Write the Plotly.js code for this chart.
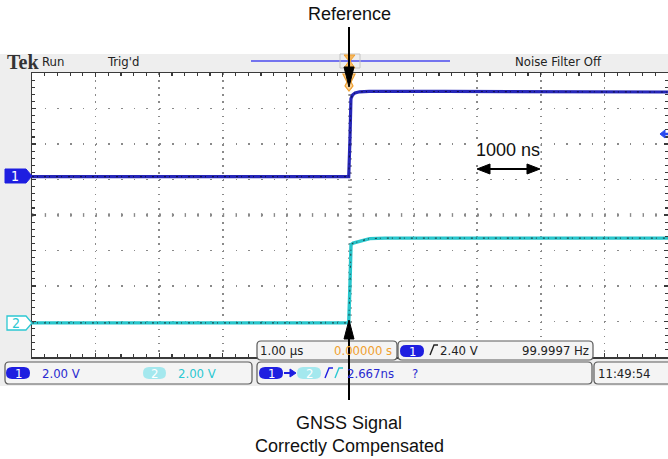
<!DOCTYPE html>
<html><head><meta charset="utf-8">
<script src="https://cdn.plot.ly/plotly-3.0.1.min.js"></script>
<style>html,body{margin:0;padding:0;background:#fff;overflow:hidden}#chart{width:668px;height:459px}</style>
</head><body><div id="chart"></div>
<script>
// ---- data (time in microseconds, volts) ----
const timeCh1 = [-5, -0.6, -0.02, 0.0, 0.015, 0.04, 0.08, 0.15, 0.3, 1.5, 3.5, 5];
const voltCh1 = [0.0, 0.0, 0.0, 2.2, 4.4, 4.6, 4.72, 4.78, 4.8, 4.8, 4.78, 4.77];
const timeCh2 = [-5, -0.6, -0.02, 0.0, 0.016, 0.05, 0.157, 0.31, 0.55, 2.0, 5];
const voltCh2 = [0.0, 0.0, 0.0, 2.2, 4.41, 4.5, 4.6, 4.75, 4.78, 4.78, 4.78];
const voltsPerDiv = ['2.00 V', '2.00 V'];
const timePerDiv = '1.00 µs';
const triggerTime = '0.00000 s';
const triggerLevel = '2.40 V';
const frequency = '99.9997 Hz';
const delayText = '2.667ns';
const clockText = '11:49:54';

// ---- geometry helpers (pixel -> paper) ----
const L=32,R=668,T=73,B=357;
const PX=x=>(x-L)/(R-L), PY=y=>(B-y)/(B-T);
const P=(x,y)=>PX(x).toFixed(5)+','+PY(y).toFixed(5);
const NARROW='Liberation Sans Narrow, DejaVu Sans Condensed, Arial Narrow, sans-serif';
const SANS='Liberation Sans, Arial, Helvetica, sans-serif';
const FS=13;
const shapes=[], annotations=[];
function rect(x0,y0,x1,y1,fill,line,lw,layer){shapes.push({type:'rect',xref:'paper',yref:'paper',x0:PX(x0),x1:PX(x1),y0:PY(y1),y1:PY(y0),fillcolor:fill,line:{color:line||fill,width:lw||0},layer:layer||'above'});}
function poly(pts,fill,line,lw,closed,layer){const d='M'+pts.map(p=>P(p[0],p[1])).join('L')+(closed===false?'':'Z');shapes.push({type:'path',xref:'paper',yref:'paper',path:d,fillcolor:fill||'rgba(0,0,0,0)',line:{color:line||'rgba(0,0,0,0)',width:lw||0},layer:layer||'above'});}
function seg(x0,y0,x1,y1,color,w,dash,layer){shapes.push({type:'line',xref:'paper',yref:'paper',x0:PX(x0),y0:PY(y0),x1:PX(x1),y1:PY(y1),line:{color:color,width:w,dash:dash||'solid'},layer:layer||'above'});}
function rrect(x0,y0,x1,y1,r,fill,line,lw,layer){const d=`M${P(x0+r,y0)}L${P(x1-r,y0)}Q${P(x1,y0)} ${P(x1,y0+r)}L${P(x1,y1-r)}Q${P(x1,y1)} ${P(x1-r,y1)}L${P(x0+r,y1)}Q${P(x0,y1)} ${P(x0,y1-r)}L${P(x0,y0+r)}Q${P(x0,y0)} ${P(x0+r,y0)}Z`;shapes.push({type:'path',xref:'paper',yref:'paper',path:d,fillcolor:fill,line:{color:line||fill,width:lw||0},layer:layer||'above'});}
function txt(s,x,y,color,size,anchor,family,bold,bg){annotations.push({xref:'paper',yref:'paper',x:PX(x),y:PY(y),text:bold?'<b>'+s+'</b>':s,showarrow:false,xanchor:anchor||'left',yanchor:'middle',borderpad:0,bgcolor:bg||'rgba(0,0,0,0)',font:{family:family||NARROW,size:size||FS,color:color||'#222'}});}
function badge(x0,x1,yc,fill,label,tcolor){rrect(x0,yc-6,x1,yc+6,6,fill,fill,0);txt(label,(x0+x1)/2,yc,tcolor||'#fff',13,'center');}
function edge(x,yc,color){poly([[x,yc+5],[x+4,yc-5],[x+8,yc-5]],null,color,1.4,false);}

const BLUE='#1e1ee0', CYAN='#2cc8d2', LCYAN='#a4e8ee', ORANGE='#f0a030', BG='#eeeeee';

// background panels
rect(0,54,668,386,BG,BG,0,'below');
rect(32,73,668,357,'#ffffff','#ffffff',0,'below');

// center cross marks
seg(32,215,668,215,'#9a9a9a',4,'1.4px,11.32px','below');
seg(350,73,350,357,'#9a9a9a',4,'1.4px,5.7px','below');

// top bar
txt('Tek',6,62,'#333',20,'left','Liberation Serif, Times New Roman, serif',true);
txt('Run',41,62,'#222',FS);
txt("Trig'd",106,62,'#222',FS);
seg(251,61,450,61,'#4a4aee',1.5);
rect(340,54,360,68,'rgba(0,0,0,0)','#c4c4c4',1);
poly([[344,55],[355,55],[350,61],[355,68],[344,68],[349,61]],'#f6b860',ORANGE,1);
txt('Noise Filter Off',514,62,'#222',FS);

// trigger position marker at top of graticule
poly([[343,74],[355,74],[351,82],[353,86],[349,91],[345,86],[347,82]],'#fbd6a0',ORANGE,1.2);

// channel ground markers
poly([[5,169],[26,169],[32,176],[26,183],[5,183]],BLUE,BLUE,1);
txt('1',15,176,'#fff',14,'center');
poly([[7,316],[26,316],[32,323],[26,330],[7,330]],'#ffffff',CYAN,1.3);
txt('2',16,323,CYAN,14,'center');

// trigger level arrow (right)
poly([[660,134],[665,130],[665,138]],'#2a4af0','#2a4af0',1);
seg(664,134,668,134,'#2a4af0',2.5);

// status boxes row 1
rrect(257,341,397,360,4,'#f4f4f4','#5a5a5a',1.2);
txt(timePerDiv,259,350,'#222',FS);
txt(triggerTime,393,350,ORANGE,FS,'right');
rrect(398,341,593,360,4,'#f4f4f4','#5a5a5a',1.2);
badge(400,424,351,BLUE,'1');
edge(430,350,'#222');
txt(triggerLevel,439,350,'#222',FS);
txt(frequency,590,350,'#222',FS,'right');

// status boxes row 2
rrect(5,362,252,384,4,'#f4f4f4','#5a5a5a',1.2);
badge(6,30,373,BLUE,'1');
txt(voltsPerDiv[0],41,373,'#2a2ad0',FS);
badge(143,166,373,LCYAN,'2');
txt(voltsPerDiv[1],177,373,CYAN,FS);
rrect(257,362,592,384,4,'#f4f4f4','#5a5a5a',1.2);
badge(259,283,373,BLUE,'1');
seg(284,373,291,373,BLUE,2);
poly([[290,369],[296,373],[290,377]],BLUE,BLUE,1);
badge(297,321,373,LCYAN,'2');
edge(325,373,BLUE);
edge(335,373,CYAN);
txt(delayText,346,373,'#2a2ad0',FS);
txt('?',415,373,'#2a2ad0',FS,'center');
rrect(594,362,680,384,4,'#f4f4f4','#5a5a5a',1.2);
txt(clockText,597,373,'#222',FS);

// external annotations
txt('Reference',349,14,'#111',18,'center',SANS);
seg(349,27,349,72,'#000',2);
poly([[344,67],[354,67],[349,87]],'#000','#000',1);
txt('GNSS Signal',349,423,'#111',18,'center',SANS);
txt('Correctly Compensated',349,446,'#111',18,'center',SANS);
seg(349,336,349,400,'#000',2);
poly([[344,339],[354,339],[349,320]],'#000','#000',1);
txt('1000 ns',508,150,'#111',18,'center',SANS,false,'#ffffff');
seg(487,169,530,169,'#000',2);
poly([[477,169],[490,164],[490,174]],'#000','#000',1);
poly([[540,169],[527,164],[527,174]],'#000','#000',1);

const traces=[
 {x:timeCh1,y:voltCh1,type:'scatter',mode:'lines',line:{color:'#2626b8',width:3.2},yaxis:'y'},
 {x:timeCh1,y:voltCh1,type:'scatter',mode:'lines',line:{color:'#10104e',width:1.1,dash:'2px,3px,1px,6px'},yaxis:'y'},
 {x:timeCh2,y:voltCh2,type:'scatter',mode:'lines',line:{color:'#28c6cc',width:3.4},yaxis:'y2'},
 {x:timeCh2,y:voltCh2,type:'scatter',mode:'lines',line:{color:'#1c4c4e',width:1.1,dash:'2px,3px,1px,6px'},yaxis:'y2'}
];
const axCommon={showline:true,linecolor:'#3a3a3a',linewidth:1.5,mirror:'ticks',ticks:'inside',ticklen:4,tickwidth:1.2,tickcolor:'#3a3a3a',showticklabels:false,showgrid:true,gridcolor:'#8a8a8a',gridwidth:1.6,zeroline:false,fixedrange:true};
const layout={width:668,height:459,margin:{l:32,r:0,t:73,b:102,pad:0},paper_bgcolor:'#ffffff',plot_bgcolor:'#ffffff',showlegend:false,hovermode:false,
 xaxis:Object.assign({},axCommon,{range:[-5,5],dtick:1,tick0:0,griddash:'1.6px,5.5px',minor:{dtick:0.2,tick0:0,ticks:'inside',ticklen:3,tickwidth:1.2,tickcolor:'#3a3a3a',showgrid:false}}),
 yaxis:Object.assign({},axCommon,{range:[-10.16,5.84],dtick:2,tick0:-10.16,griddash:'1.6px,11.12px',minor:{dtick:0.4,tick0:-10.16,ticks:'inside',ticklen:3,tickwidth:1.2,tickcolor:'#3a3a3a',showgrid:false}}),
 yaxis2:{range:[-1.92,14.08],overlaying:'y',visible:false,fixedrange:true},
 shapes:shapes,annotations:annotations};
Plotly.newPlot('chart',traces,layout,{staticPlot:true,displayModeBar:false});
</script></body></html>
